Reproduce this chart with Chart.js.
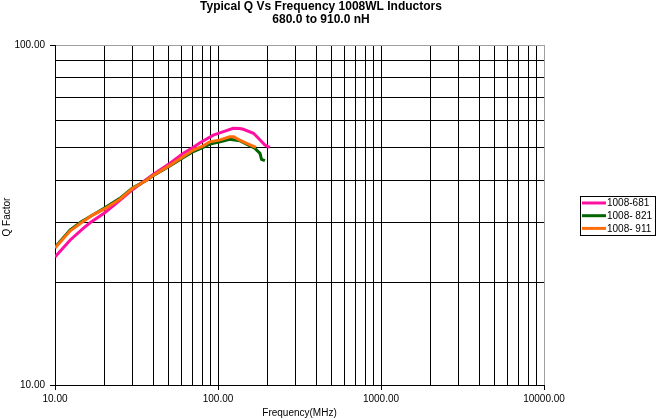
<!DOCTYPE html>
<html>
<head>
<meta charset="utf-8">
<script src="https://cdn.jsdelivr.net/npm/chart.js@4/dist/chart.umd.min.js"></script>
<style>
  html, body { margin: 0; padding: 0; background: #fff; }
  #wrap { width: 657px; height: 420px; }
</style>
</head>
<body>
<div id="wrap"><canvas id="qChart" width="657" height="420"></canvas></div>
<script>
/* ---- data ---- */
const titleLines = ['Typical Q Vs Frequency 1008WL Inductors', '680.0 to 910.0 nH'];
const xTitle = 'Frequency(MHz)';
const yTitle = 'Q Factor';

const seriesNames  = ['1008-681', '1008- 821', '1008- 911'];
const seriesColors = ['#ff10a0', '#006400', '#ff6e0a'];

const freq681 = [10, 12.4, 14.9, 16.4, 20, 25, 30, 40, 50.8, 61, 70.6, 77.6, 93.6, 108, 124, 136, 143, 165, 177, 194, 208];
const q681    = [23.8, 26.7, 28.9, 30, 32.0, 34.9, 37.6, 41.6, 44.9, 48.0, 50.0, 51.6, 54.3, 55.6, 56.9, 56.8, 56.5, 55.0, 53.2, 50.8, 50.0];

const freq821 = [10, 12.4, 14.5, 20, 25, 30, 36.5, 40, 50, 61, 70.6, 81, 89, 103, 118, 136, 153, 168, 181, 185, 194];
const q821    = [25.4, 28.6, 30.2, 33.1, 35.4, 38.0, 40.0, 41.3, 43.9, 46.6, 48.6, 50.0, 51.1, 51.9, 52.8, 52.3, 50.8, 49.7, 48.0, 46.1, 45.7];

const freq911 = [10, 12.4, 14.5, 17, 20, 25, 30, 36.5, 40, 50, 61, 70.6, 81, 89, 103, 118, 125, 133, 150, 171];
const q911    = [25.3, 28.4, 30.0, 31.6, 32.9, 35.2, 37.9, 40.0, 41.3, 44.1, 46.9, 49.1, 50.5, 51.9, 52.6, 53.7, 53.7, 52.8, 51.4, 50.0];

const xTicks = [10, 20, 30, 40, 50, 60, 70, 80, 90,
                100, 200, 300, 400, 500, 600, 700, 800, 900,
                1000, 2000, 3000, 4000, 5000, 6000, 7000, 8000, 9000, 10000];
const yTicks = [10, 20, 30, 40, 50, 60, 70, 80, 90, 100];

/* ---- helpers ---- */
const FONT = "'Liberation Sans', Arial, sans-serif";
const isDecade = v => Math.abs(Math.log10(v) - Math.round(Math.log10(v))) < 1e-9;
const toPoints = (xs, ys) => xs.map((x, i) => ({ x, y: ys[i] }));

const seriesData = [toPoints(freq681, q681), toPoints(freq821, q821), toPoints(freq911, q911)];

const decorPlugin = {
  id: 'decor',
  beforeDraw(chart) {
    const ctx = chart.ctx;
    ctx.save();
    ctx.fillStyle = '#fff';
    ctx.fillRect(0, 0, chart.width, chart.height);
    ctx.restore();
  },
  afterDraw(chart) {
    const ctx = chart.ctx;
    const area = chart.chartArea;
    ctx.save();
    ctx.fillStyle = '#000';
    ctx.textBaseline = 'middle';

    // chart title
    ctx.textAlign = 'center';
    ctx.font = 'bold 12px ' + FONT;
    ctx.fillText(titleLines[0], 321, 7);
    ctx.fillText(titleLines[1], 321, 20);

    // axis titles
    ctx.font = '10px ' + FONT;
    ctx.fillText(xTitle, (area.left + area.right) / 2, 413);
    ctx.save();
    ctx.translate(7, (area.top + area.bottom) / 2 + 2);
    ctx.rotate(-Math.PI / 2);
    ctx.fillText(yTitle, 0, 0);
    ctx.restore();

    // legend box
    ctx.strokeStyle = '#000';
    ctx.lineWidth = 1;
    ctx.strokeRect(580.5, 196.5, 75, 39);
    ctx.textAlign = 'left';
    seriesNames.forEach((name, i) => {
      const y = 203 + i * 12.7;
      ctx.strokeStyle = seriesColors[i];
      ctx.lineWidth = 3;
      ctx.beginPath();
      ctx.moveTo(582, y);
      ctx.lineTo(606, y);
      ctx.stroke();
      ctx.fillStyle = '#000';
      ctx.fillText(name, 607, y + 0.5);
    });
    ctx.restore();
  }
};

new Chart(document.getElementById('qChart'), {
  type: 'scatter',
  data: {
    datasets: seriesData.map((pts, i) => ({
      label: seriesNames[i],
      data: pts,
      showLine: true,
      borderColor: seriesColors[i],
      backgroundColor: seriesColors[i],
      borderWidth: 3,
      pointRadius: 0,
      tension: 0,
      order: seriesData.length - i,
    })),
  },
  options: {
    responsive: false,
    animation: false,
    layout: { padding: { top: 45, right: 113, bottom: 0, left: 0 } },
    plugins: {
      legend: { display: false },
      title: { display: false },
      tooltip: { enabled: false },
    },
    scales: {
      x: {
        type: 'logarithmic',
        min: 10,
        max: 10000,
        afterBuildTicks: scale => { scale.ticks = xTicks.map(v => ({ value: v })); },
        afterFit: scale => { scale.height = 35; },
        ticks: {
          autoSkip: false,
          maxRotation: 0,
          padding: 3,
          color: '#000',
          font: { family: FONT, size: 10 },
          callback: v => (isDecade(v) ? v.toFixed(2) : ''),
        },
        grid: {
          color: c => (c.tick && c.tick.value === 10000 ? '#a0a0a0' : '#000'),
          tickColor: c => (c.tick && isDecade(c.tick.value) ? '#000' : 'rgba(0,0,0,0)'),
          tickLength: 5,
          lineWidth: 1,
        },
        border: { color: '#000', width: 1 },
      },
      y: {
        type: 'logarithmic',
        min: 10,
        max: 100,
        afterBuildTicks: scale => { scale.ticks = yTicks.map(v => ({ value: v })); },
        afterFit: scale => { scale.width = 55; },
        ticks: {
          autoSkip: false,
          padding: 5,
          color: '#000',
          font: { family: FONT, size: 10 },
          callback: v => (isDecade(v) ? v.toFixed(2) : ''),
        },
        grid: {
          color: c => (c.tick && c.tick.value === 100 ? '#a0a0a0' : '#000'),
          tickColor: c => (c.tick && isDecade(c.tick.value) ? '#000' : 'rgba(0,0,0,0)'),
          tickLength: 5,
          lineWidth: 1,
        },
        border: { color: '#000', width: 1 },
      },
    },
  },
  plugins: [decorPlugin],
});
</script>
</body>
</html>
